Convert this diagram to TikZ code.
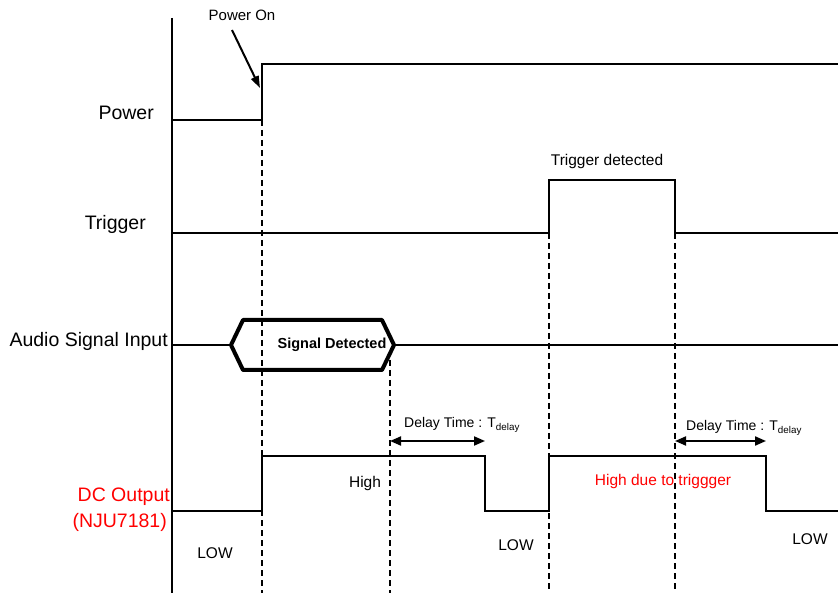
\documentclass[tikz,border=0pt]{standalone}
\usepackage{fontspec}
\setmainfont{Liberation Sans}
\usetikzlibrary{arrows.meta}
\definecolor{sigred}{RGB}{255,0,0}
\tikzset{
  sig/.style={line width=2pt, line join=miter},
  hexsig/.style={line width=4pt, line join=round},
  guide/.style={line width=2pt, dash pattern=on 6pt off 4pt},
  axisline/.style={line width=2pt},
  biglbl/.style={font=\fontsize{19.5}{21}\selectfont, inner sep=0pt},
  smalllbl/.style={font=\fontsize{15.5}{17}\selectfont, inner sep=0pt},
  delaylbl/.style={font=\fontsize{14}{15}\selectfont, inner sep=0pt, anchor=west},
  dblarrow/.style={line width=2pt, {Triangle[length=11pt,width=9pt]}-{Triangle[length=11pt,width=9pt]}},
  ptarrow/.style={line width=2pt, -{Triangle[length=12pt,width=8pt]}}
}
\begin{document}
\begin{tikzpicture}[x=1pt,y=-1pt]
\useasboundingbox (0,0) rectangle (838,593);
% axis
\coordinate (axtop) at (172,18);
\coordinate (axbot) at (172,593);
\draw[axisline] (axtop) -- (axbot);
% labels
\node[biglbl, anchor=east] (lpower) at (154,113) {Power};
\node[biglbl, anchor=east] (ltrig) at (146,224) {Trigger};
\node[biglbl, anchor=east] (laudio) at (168,341) {Audio Signal Input};
\node[biglbl, anchor=east, text=sigred] (ldc1) at (170,497) {DC Output};
\node[biglbl, anchor=east, text=sigred] (ldc2) at (167,522) {(NJU7181)};
% Power waveform
\coordinate (p0) at (172,120);
\coordinate (p1) at (262,120);
\coordinate (p2) at (262,64);
\coordinate (p3) at (838,64);
\draw[sig] (p0) -- (p1) -- (p2) -- (p3);
\node[font=\fontsize{15}{16}\selectfont, inner sep=0pt] (pon) at (242,15) {Power On};
\coordinate (ponA) at (232,30);
\coordinate (ponB) at (260,88);
\draw[ptarrow] (ponA) -- (ponB);
% Trigger waveform
\coordinate (t0) at (172,233);
\coordinate (t1) at (549,233);
\coordinate (t2) at (549,180);
\coordinate (t3) at (675,180);
\coordinate (t4) at (675,233);
\coordinate (t5) at (838,233);
\draw[sig] (t0) -- (t1) -- (t2) -- (t3) -- (t4) -- (t5);
\node[smalllbl] (tdet) at (607,161) {Trigger detected};
% Audio
\coordinate (a0) at (172,345);
\coordinate (hl) at (231,345);
\coordinate (htl) at (243,320);
\coordinate (htr) at (382,320);
\coordinate (hr) at (394,345);
\coordinate (hbr) at (382,370);
\coordinate (hbl) at (243,370);
\coordinate (a1) at (838,345);
\draw[sig] (a0) -- (hl);
\draw[sig] (hr) -- (a1);
% DC output
\coordinate (d0) at (172,511);
\coordinate (d1) at (262,511);
\coordinate (d2) at (262,456);
\coordinate (d3) at (485,456);
\coordinate (d4) at (485,511);
\coordinate (d5) at (549,511);
\coordinate (d6) at (549,456);
\coordinate (d7) at (766,456);
\coordinate (d8) at (766,511);
\coordinate (d9) at (838,511);
\draw[sig] (d0) -- (d1) -- (d2) -- (d3) -- (d4) -- (d5) -- (d6) -- (d7) -- (d8) -- (d9);
% dashed guides
\coordinate (g1t) at (262,120);
\coordinate (g1b) at (262,593);
\coordinate (g2t) at (390,360);
\coordinate (g2b) at (390,593);
\coordinate (g3t) at (549,233);
\coordinate (g3b) at (549,593);
\coordinate (g4t) at (675,233);
\coordinate (g4b) at (675,593);
\draw[guide] (g1t) -- (g1b);
\draw[guide] (g2t) -- (g2b);
\draw[guide] (g3t) -- (g3b);
\draw[guide] (g4t) -- (g4b);
% hexagon
\draw[hexsig] (hl) -- (htl) -- (htr) -- (hr) -- (hbr) -- (hbl) -- cycle;
\node[font=\fontsize{14.5}{16}\selectfont\bfseries, inner sep=0pt] (sdet) at (332,345) {Signal Detected};
% delay arrows
\coordinate (da1) at (390,441);
\coordinate (da2) at (485,441);
\coordinate (db1) at (675,441);
\coordinate (db2) at (766,441);
\draw[dblarrow] (da1) -- (da2);
\draw[dblarrow] (db1) -- (db2);
\node[delaylbl] (dl1) at (404,425) {Delay Time : T\textsubscript{delay}};
\node[delaylbl] (dl2) at (686,428) {Delay Time : T\textsubscript{delay}};
% level texts
\node[smalllbl] (hi1) at (365,483) {High};
\node[smalllbl, text=sigred] (hi2) at (663,481) {High due to triggger};
\node[smalllbl] (lo1) at (215,553) {LOW};
\node[smalllbl] (lo2) at (516,545) {LOW};
\node[smalllbl] (lo3) at (810,539) {LOW};
\end{tikzpicture}
\end{document}
